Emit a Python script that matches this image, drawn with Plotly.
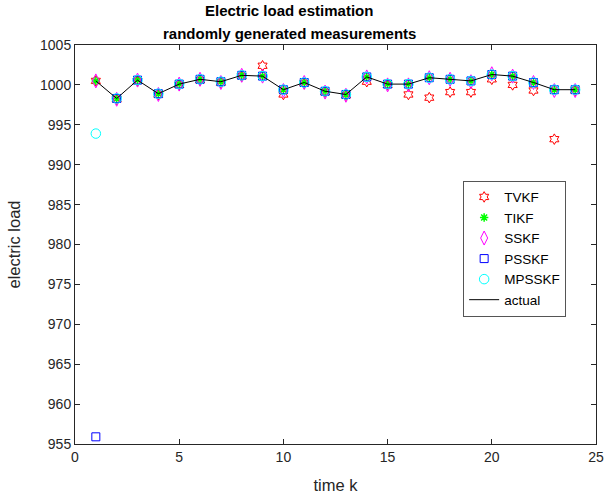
import plotly.graph_objects as go

k = list(range(1, 25))
actual = [1000.5, 998.3, 1000.6, 998.9, 1000.1, 1000.7, 1000.4, 1001.2, 1001.1, 999.4, 1000.3, 999.2,
          998.8, 1001.0, 1000.1, 1000.1, 1000.9, 1000.7, 1000.5, 1001.3, 1001.1, 1000.3, 999.4, 999.4]
tvkf = [1000.5, 998.2, 1000.5, 998.8, 1000.0, 1000.6, 1000.3, 1001.1, 1002.4, 998.8, 1000.2, 999.1,
        998.7, 1000.4, 1000.0, 998.8, 998.4, 999.1, 999.1, 1000.7, 1000.0, 999.3, 993.2, 999.3]
tikf = [1000.5, 998.3, 1000.6, 998.9, 1000.1, 1000.7, 1000.4, 1001.2, 1001.1, 999.4, 1000.3, 999.2,
        998.8, 1001.0, 1000.1, 1000.1, 1000.9, 1000.7, 1000.5, 1001.3, 1001.1, 1000.3, 999.4, 999.4]
sskf = [1000.5, 998.2, 1000.6, 998.8, 1000.1, 1000.7, 1000.3, 1001.2, 1001.1, 999.3, 1000.3, 999.1,
        998.7, 1001.0, 1000.0, 1000.0, 1000.9, 1000.7, 1000.4, 1001.4, 1001.1, 1000.3, 999.3, 999.3]
psskf = [955.9, 998.3, 1000.6, 998.9, 1000.1, 1000.7, 1000.4, 1001.2, 1001.1, 999.4, 1000.3, 999.2,
         998.8, 1001.0, 1000.1, 1000.1, 1000.9, 1000.7, 1000.5, 1001.3, 1001.1, 1000.3, 999.4, 999.4]
mpsskf = [993.9, 998.3, 1000.6, 998.9, 1000.1, 1000.7, 1000.4, 1001.2, 1001.1, 999.4, 1000.3, 999.2,
          998.8, 1001.0, 1000.1, 1000.1, 1000.9, 1000.7, 1000.5, 1001.3, 1001.1, 1000.3, 999.4, 999.4]
title_lines = ["Electric load estimation", "randomly generated measurements"]

FONT = "Liberation Sans, Arial, sans-serif"
fig = go.Figure()
fig.add_trace(go.Scatter(x=k, y=tvkf, mode="markers", name="TVKF",
                         marker=dict(symbol="hexagram-open", size=8, color="red", line=dict(width=1, color="red"))))
fig.add_trace(go.Scatter(x=k, y=tikf, mode="markers", name="TIKF",
                         marker=dict(symbol="asterisk-open", size=7, color="#00ff00", line=dict(width=1.5, color="#00ff00"))))
fig.add_trace(go.Scatter(x=k, y=sskf, mode="markers", name="SSKF",
                         marker=dict(symbol="diamond-tall-open", size=10, color="magenta", line=dict(width=1, color="magenta"))))
fig.add_trace(go.Scatter(x=k, y=psskf, mode="markers", name="PSSKF",
                         marker=dict(symbol="square-open", size=8, color="blue", line=dict(width=1, color="blue"))))
fig.add_trace(go.Scatter(x=k, y=mpsskf, mode="markers", name="MPSSKF",
                         marker=dict(symbol="circle-open", size=9.5, color="cyan", line=dict(width=1, color="cyan"))))
fig.add_trace(go.Scatter(x=k, y=actual, mode="lines", name="actual",
                         line=dict(color="black", width=1)))

axis_common = dict(showgrid=False, zeroline=False, showline=True, mirror="ticks", linecolor="#262626",
                   linewidth=1, ticks="inside", ticklen=5, tickcolor="#262626", automargin=False,
                   tickfont=dict(family=FONT, size=14, color="#262626"))
fig.update_xaxes(range=[0, 25], dtick=5, tick0=0,
                 title=dict(text="time k", font=dict(family=FONT, size=16.5, color="#262626")),
                 **axis_common)
fig.update_yaxes(range=[955, 1005], dtick=5, tick0=955,
                 title=dict(text="electric load", font=dict(family=FONT, size=16.5, color="#262626")),
                 **axis_common)

PH = 495 - 45 - 51
for txt, ypix in zip(title_lines, [11, 33]):
    fig.add_annotation(text="<b>" + txt + "</b>", xref="paper", yref="paper",
                       x=(289 - 75) / 521, y=(444 - ypix) / PH, xanchor="center", yanchor="middle",
                       showarrow=False, font=dict(family=FONT, size=15, color="black"))

fig.update_layout(
    width=605, height=495,
    margin=dict(l=75, r=9, t=45, b=51),
    plot_bgcolor="white", paper_bgcolor="white",
    legend=dict(x=0.745, y=0.66, xanchor="left", yanchor="top", bgcolor="white",
                bordercolor="#555555", borderwidth=1, tracegroupgap=0,
                font=dict(family=FONT, size=13.5, color="black")),
    showlegend=True,
)
fig.write_html("out.html", post_script="document.body.style.margin='0';",
               config={"displayModeBar": False})
